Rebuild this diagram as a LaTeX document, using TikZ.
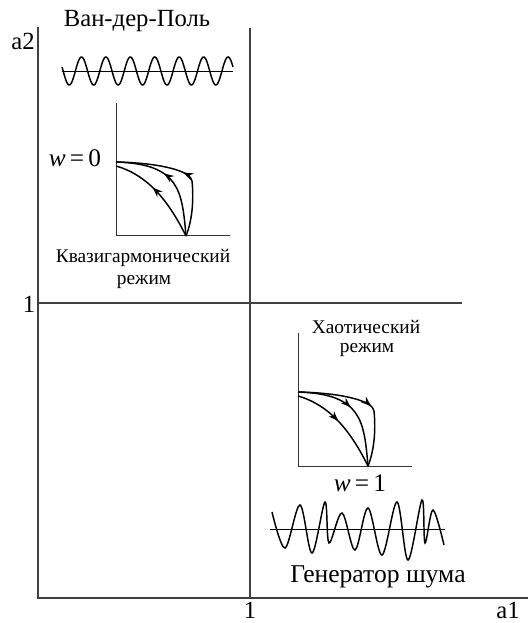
\documentclass[tikz,border=0pt]{standalone}
\usepackage{fontspec}
\setmainfont{Liberation Serif}
\usetikzlibrary{arrows.meta,decorations.markings}
\begin{document}
\begin{tikzpicture}[x=0.75pt,y=-0.75pt,
  axis/.style={line width=0.9pt, draw=black!75},
  iax/.style={line width=0.75pt, draw=black!80},
  crv/.style={line width=1.1pt},
  big/.style={font=\fontsize{18.5}{20}\selectfont, inner sep=0pt},
  small/.style={font=\fontsize{14.5}{16}\selectfont, inner sep=0pt},
  wlab/.style={font=\fontsize{19}{21}\selectfont, inner sep=0pt},
  fw/.style={postaction={decorate},decoration={markings,mark=at position #1 with {\arrow{Stealth[length=7.5pt,width=5.5pt]}}}},
]
\useasboundingbox (0,0) rectangle (528,623);
% main axes
\coordinate (Top) at (38,27);
\coordinate (O) at (38,598);
\coordinate (Right) at (528,598);
\coordinate (MidTop) at (250,28);
\coordinate (MidBot) at (250,598);
\coordinate (L1) at (38,303);
\coordinate (R1) at (462,303);
\draw[axis] (Top) -- (O) -- (Right);
\draw[axis] (MidTop) -- (MidBot);
\draw[axis] (L1) -- (R1);
% axis labels
\node[big] (a2) at (23,41) {a2};
\node[big] (one1) at (29,304) {1};
\node[big] (one2) at (250,610) {1};
\node[big] (a1) at (508,610) {a1};
% Van der Pol
\node[big] (vdp) at (137,21) {Ван-дер-Поль};
\coordinate (s0) at (62,71);
\coordinate (s1) at (233,71);
\draw[line width=0.7pt] (s0) -- (s1);
\draw[crv] plot[domain=62:233, samples=250, smooth] (\x, {71+14*sin((\x-62)/24.43*360 - 17)});
% inset 1
\begin{scope}[shift={(116,236)},yscale=-1]
  \coordinate (o1) at (0,0);
  \coordinate (ya1) at (0,133);
  \coordinate (xa1) at (114,0);
  \coordinate (V1) at (70,0);
  \coordinate (T1) at (0,74);
  \coordinate (S1) at (0,70);
  \draw[iax] (ya1) -- (o1) -- (xa1);
  \draw[crv, fw=0.5] (V1) .. controls (76,15) and (78,35) .. (76,55) .. controls (75,65) and (45,73) .. (T1);
  \draw[crv, fw=0.58] (V1) .. controls (66,45) and (64,72) .. (T1);
  \draw[crv, fw=0.58] (V1) .. controls (55,30) and (35,60) .. (S1);
\end{scope}
\node[wlab] (w0) at (75,158) {\itshape w\upshape\,=\,0};
\node[small] (kv1) at (143,258) {Квазигармонический};
\node[small] (kv2) at (144,282) {режим};
% inset 2
\node[small] (ch1) at (366,327) {Хаотический};
\node[small] (ch2) at (367,350) {режим};
\begin{scope}[shift={(298,466)},yscale=-1]
  \coordinate (o2) at (0,0);
  \coordinate (ya2) at (0,133);
  \coordinate (xa2) at (114,0);
  \coordinate (V2) at (70,0);
  \coordinate (T2) at (0,74);
  \coordinate (S2) at (0,70);
  \draw[iax] (ya2) -- (o2) -- (xa2);
  \draw[crv, fw=0.55] (T2) .. controls (45,73) and (75,65) .. (76,55) .. controls (78,35) and (76,15) .. (V2);
  \draw[crv, fw=0.47] (T2) .. controls (64,72) and (66,45) .. (V2);
  \draw[crv, fw=0.47] (S2) .. controls (35,60) and (55,30) .. (V2);
\end{scope}
\node[wlab] (w1) at (360,483) {\itshape w\upshape\,=\,1};
% noise generator
\coordinate (n0) at (270,529);
\coordinate (n1) at (445,529);
\draw[line width=0.7pt] (n0) -- (n1);
\draw[crv] plot[smooth, tension=0.55] coordinates {(272,512) (285,548) (300,505) (312,553) (325,502) (329,543) (342,513) (355,550) (368,508) (382,555) (397,502) (408,560) (422,500) (425,543) (433,510) (444,545)};
\node[font=\fontsize{19.2}{21}\selectfont, inner sep=0pt] (gen) at (378,577) {Генератор шума};
\end{tikzpicture}
\end{document}
